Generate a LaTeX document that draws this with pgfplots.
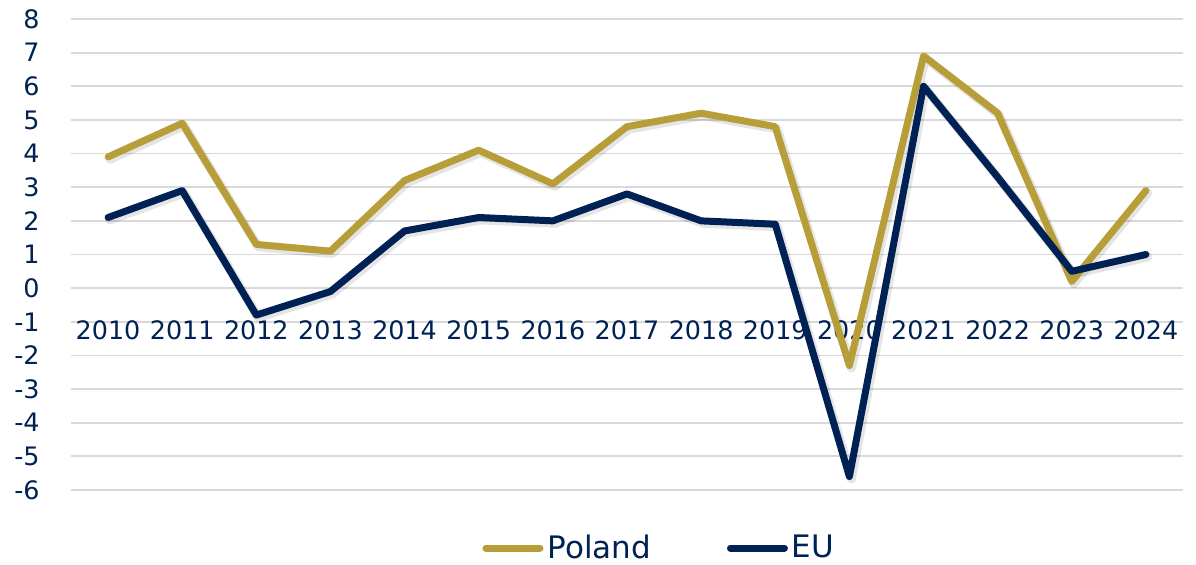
\documentclass[border=0pt]{standalone}
\usepackage{pgfplots}
\usepackage{pgfplotstable}
\pgfplotsset{compat=1.18}
\usepackage{fontspec}
\setmainfont{DejaVu Sans}
\definecolor{gold}{RGB}{183,158,56}
\definecolor{navy}{RGB}{0,33,83}
\definecolor{gridc}{RGB}{217,217,217}
\pgfplotstableread{
x y
0 3.9
1 4.9
2 1.3
3 1.1
4 3.2
5 4.1
6 3.1
7 4.8
8 5.2
9 4.8
10 -2.3
11 6.9
12 5.2
13 0.2
14 2.9
}\poland
\pgfplotstableread{
x y
0 2.1
1 2.9
2 -0.8
3 -0.1
4 1.7
5 2.1
6 2.0
7 2.8
8 2.0
9 1.9
10 -5.6
11 6.0
12 3.3
13 0.5
14 1.0
}\eu
\begin{document}
\begin{tikzpicture}
\begin{axis}[
  scale only axis,
  width=556pt, height=235.5pt,
  xmin=-0.5, xmax=14.5,
  ymin=-6, ymax=8,
  axis x line*=middle,
  axis y line*=left,
  x axis line style={draw=gridc, line width=0.9pt},
  y axis line style={draw=none},
  major tick length=0pt,
  xtick={0,...,14},
  xticklabels={2010,2011,2012,2013,2014,2015,2016,2017,2018,2019,2020,2021,2022,2023,2024},
  ytick={-6,...,8},
  yticklabels={-6,-5,-4,-3,-2,-1,0,1,2,3,4,5,6,7,8},
  ymajorgrids,
  major grid style={draw=gridc, line width=0.9pt},
  xticklabel style={anchor=north, inner sep=0pt, yshift=-16pt, font=\fontsize{12.7}{14}\selectfont, text=navy},
  yticklabel style={anchor=east, inner sep=0pt, xshift=-15.5pt, font=\fontsize{12.7}{14}\selectfont, text=navy},
  clip=false,
  legend style={at={(0.53,0)}, anchor=center, yshift=-29pt, draw=none, fill=none,
    legend columns=2, font=\fontsize{15.5}{18}\selectfont, text=navy,
    /tikz/every even column/.append style={column sep=36pt},
    inner sep=0pt},
  legend image code/.code={\draw[#1, line cap=round] (0pt,0pt) -- (27pt,0pt);},
]
\addplot[forget plot, draw=black, opacity=0.10, line width=4.5pt, line join=round, line cap=round, xshift=1pt, yshift=-1.2pt] table[x=x,y=y] {\poland};
\addplot[forget plot, draw=black, opacity=0.10, line width=4.5pt, line join=round, line cap=round, xshift=1pt, yshift=-1.2pt] table[x=x,y=y] {\eu};
\addplot[draw=gold, line width=3.5pt, line join=round, line cap=round] table[x=x,y=y] {\poland};
\addlegendentry{Poland}
\addplot[draw=navy, line width=3.5pt, line join=round, line cap=round] table[x=x,y=y] {\eu};
\addlegendentry{EU}
\end{axis}
\pgfresetboundingbox
\path[use as bounding box] (-35.5pt,-37pt) rectangle (562.5pt,245pt);
\end{tikzpicture}
\end{document}
